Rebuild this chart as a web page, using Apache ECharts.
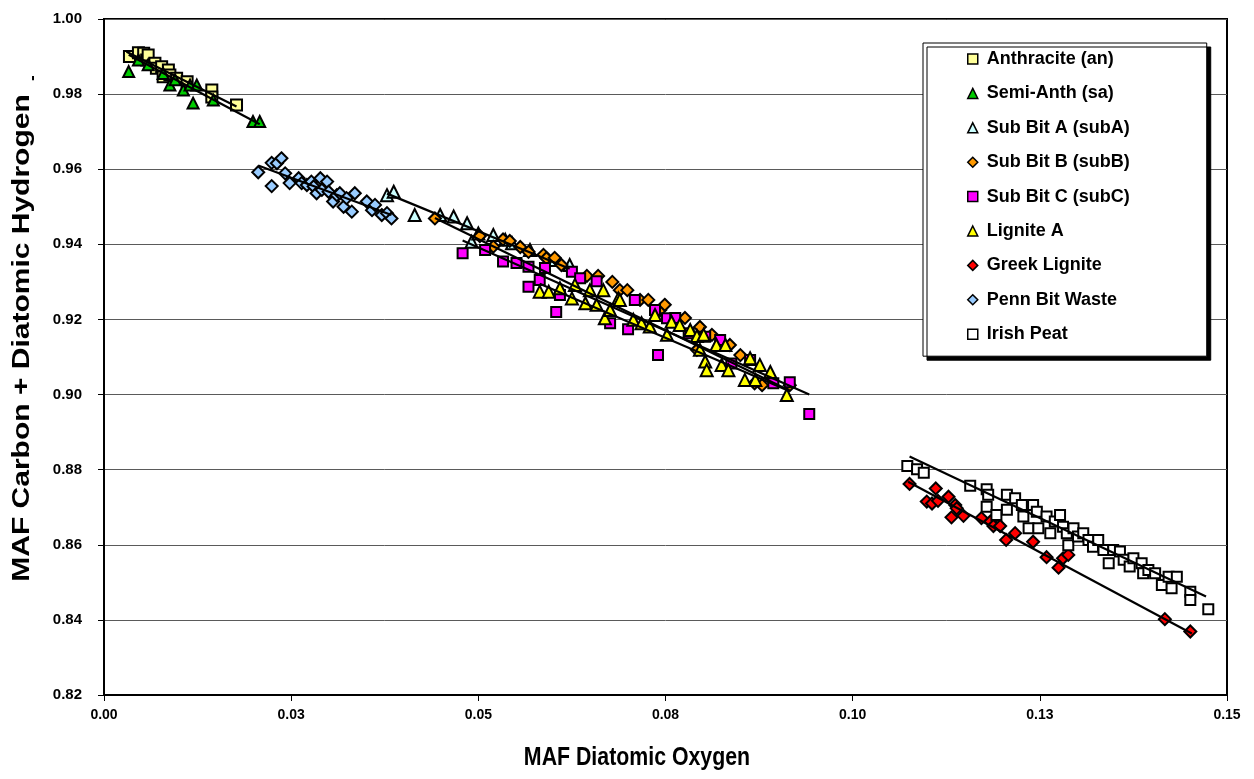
<!DOCTYPE html>
<html>
<head>
<meta charset="utf-8">
<script src="https://cdn.jsdelivr.net/npm/echarts@6/dist/echarts.min.js"></script>
<style>
html, body { margin: 0; padding: 0; background: #fff; }
#chart { width: 1254px; height: 779px; }
</style>
</head>
<body>
<div id="chart"></div>
<script>
// [MAF diatomic oxygen, MAF carbon + diatomic hydrogen]
const anthracite = [[0.0034,0.9900],[0.0046,0.9910],[0.0053,0.9909],[0.0057,0.9891],[0.0059,0.9904],[0.0068,0.9882],[0.0070,0.9869],[0.0077,0.9873],[0.0079,0.9846],[0.0086,0.9864],[0.0088,0.9851],[0.0097,0.9842],[0.0111,0.9833],[0.0144,0.9811],[0.0144,0.9792],[0.0177,0.9771]];
const semiAnth = [[0.0033,0.9860],[0.0046,0.9891],[0.0059,0.9878],[0.0079,0.9855],[0.0088,0.9824],[0.0095,0.9838],[0.0106,0.9811],[0.0115,0.9824],[0.0119,0.9776],[0.0124,0.9824],[0.0146,0.9784],[0.0199,0.9727],[0.0208,0.9727]];
const subBitA = [[0.0378,0.9531],[0.0387,0.9540],[0.0415,0.9478],[0.0449,0.9478],[0.0467,0.9474],[0.0485,0.9456],[0.0491,0.9407],[0.0500,0.9429],[0.0520,0.9425],[0.0536,0.9412],[0.0545,0.9403],[0.0569,0.9385],[0.0602,0.9358],[0.0622,0.9345]];
const subBitB = [[0.0442,0.9469],[0.0502,0.9422],[0.0520,0.9394],[0.0533,0.9413],[0.0542,0.9409],[0.0556,0.9393],[0.0567,0.9380],[0.0587,0.9372],[0.0591,0.9363],[0.0602,0.9364],[0.0611,0.9345],[0.0645,0.9316],[0.0660,0.9316],[0.0679,0.9300],[0.0689,0.9278],[0.0699,0.9278],[0.0716,0.9252],[0.0727,0.9252],[0.0743,0.9225],[0.0749,0.9239],[0.0776,0.9204],[0.0792,0.9119],[0.0796,0.9180],[0.0812,0.9159],[0.0836,0.9132],[0.0850,0.9105],[0.0869,0.9030],[0.0879,0.9025],[0.0916,0.9025]];
const subBitC = [[0.0479,0.9376],[0.0509,0.9385],[0.0533,0.9354],[0.0551,0.9350],[0.0567,0.9340],[0.0567,0.9287],[0.0582,0.9305],[0.0589,0.9337],[0.0604,0.9220],[0.0609,0.9265],[0.0625,0.9327],[0.0636,0.9310],[0.0658,0.9302],[0.0676,0.9190],[0.0700,0.9174],[0.0709,0.9252],[0.0736,0.9225],[0.0740,0.9105],[0.0752,0.9203],[0.0763,0.9204],[0.0781,0.9163],[0.0803,0.9154],[0.0823,0.9145],[0.0838,0.9083],[0.0863,0.9092],[0.0894,0.9030],[0.0916,0.9033],[0.0942,0.8948]];
const ligniteA = [[0.0582,0.9274],[0.0594,0.9274],[0.0609,0.9283],[0.0625,0.9256],[0.0629,0.9292],[0.0643,0.9243],[0.0649,0.9278],[0.0658,0.9239],[0.0667,0.9278],[0.0669,0.9203],[0.0676,0.9225],[0.0687,0.9256],[0.0689,0.9252],[0.0707,0.9199],[0.0718,0.9190],[0.0729,0.9181],[0.0736,0.9212],[0.0752,0.9159],[0.0758,0.9194],[0.0769,0.9185],[0.0783,0.9172],[0.0792,0.9156],[0.0801,0.9159],[0.0796,0.9119],[0.0818,0.9132],[0.0830,0.9132],[0.0803,0.9088],[0.0805,0.9065],[0.0825,0.9079],[0.0834,0.9065],[0.0863,0.9097],[0.0856,0.9039],[0.0870,0.9039],[0.0876,0.9079],[0.0890,0.9060],[0.0912,0.8999]];
const greekLignite = [[0.1076,0.8762],[0.1099,0.8715],[0.1106,0.8710],[0.1111,0.8750],[0.1114,0.8717],[0.1128,0.8728],[0.1132,0.8673],[0.1137,0.8706],[0.1139,0.8697],[0.1148,0.8677],[0.1172,0.8671],[0.1184,0.8662],[0.1188,0.8650],[0.1197,0.8650],[0.1205,0.8613],[0.1217,0.8631],[0.1241,0.8608],[0.1259,0.8567],[0.1275,0.8539],[0.1281,0.8564],[0.1288,0.8573],[0.1417,0.8402],[0.1451,0.8369]];
const pennBitWaste = [[0.0206,0.9592],[0.0224,0.9617],[0.0224,0.9555],[0.0231,0.9616],[0.0237,0.9629],[0.0242,0.9589],[0.0248,0.9563],[0.0260,0.9576],[0.0264,0.9563],[0.0271,0.9558],[0.0277,0.9567],[0.0280,0.9554],[0.0284,0.9536],[0.0289,0.9576],[0.0291,0.9545],[0.0298,0.9567],[0.0300,0.9540],[0.0306,0.9514],[0.0311,0.9531],[0.0315,0.9536],[0.0320,0.9500],[0.0324,0.9523],[0.0331,0.9487],[0.0335,0.9536],[0.0351,0.9514],[0.0358,0.9491],[0.0362,0.9505],[0.0371,0.9478],[0.0378,0.9483],[0.0384,0.9469]];
const irishPeat = [[0.1073,0.8810],[0.1086,0.8801],[0.1095,0.8792],[0.1157,0.8757],[0.1179,0.8748],[0.1181,0.8733],[0.1179,0.8701],[0.1192,0.8679],[0.1206,0.8733],[0.1217,0.8724],[0.1206,0.8693],[0.1226,0.8706],[0.1228,0.8675],[0.1241,0.8706],[0.1246,0.8688],[0.1235,0.8644],[0.1248,0.8644],[0.1259,0.8675],[0.1264,0.8631],[0.1270,0.8662],[0.1277,0.8679],[0.1281,0.8648],[0.1286,0.8631],[0.1288,0.8599],[0.1295,0.8644],[0.1301,0.8622],[0.1308,0.8631],[0.1315,0.8613],[0.1321,0.8595],[0.1328,0.8613],[0.1335,0.8586],[0.1342,0.8551],[0.1348,0.8586],[0.1357,0.8582],[0.1362,0.8560],[0.1370,0.8542],[0.1375,0.8564],[0.1386,0.8551],[0.1388,0.8524],[0.1395,0.8533],[0.1404,0.8524],[0.1413,0.8493],[0.1422,0.8515],[0.1426,0.8484],[0.1433,0.8515],[0.1451,0.8475],[0.1451,0.8453],[0.1475,0.8428]];

// fitted trend lines, [start, end]
const anthraciteTrend = [[0.0030,0.9913],[0.0177,0.9767]];
const semiAnthTrend = [[0.0033,0.9905],[0.0208,0.9720]];
const subBitATrend = [[0.0378,0.9535],[0.0622,0.9335]];
const subBitBTrend = [[0.0442,0.9470],[0.0916,0.9010]];
const subBitCTrend = [[0.0479,0.9410],[0.0942,0.9000]];
const ligniteATrend = [[0.0582,0.9295],[0.0912,0.9012]];
const greekTrend = [[0.1074,0.8768],[0.1453,0.8364]];
const pennTrend = [[0.0206,0.9610],[0.0384,0.9478]];
const peatTrend = [[0.1076,0.8835],[0.1472,0.8462]];

const xTickLabels = ['0.00','0.03','0.05','0.08','0.10','0.13','0.15'];
const yTickLabels = ['0.82','0.84','0.86','0.88','0.90','0.92','0.94','0.96','0.98','1.00'];

const FONT = '"Liberation Sans", Arial, sans-serif';

const seriesDefs = [
  { name: 'Anthracite (an)', data: anthracite, symbol: 'rect', size: 11, color: '#FFFF99' },
  { name: 'Semi-Anth (sa)', data: semiAnth, symbol: 'triangle', size: 11, color: '#00CC00' },
  { name: 'Sub Bit A (subA)', data: subBitA, symbol: 'triangle', size: 12, color: '#CCFFFF' },
  { name: 'Sub Bit B (subB)', data: subBitB, symbol: 'diamond', size: 12, color: '#FF9900' },
  { name: 'Sub Bit C (subC)', data: subBitC, symbol: 'rect', size: 10, color: '#FF00FF' },
  { name: 'Lignite A', data: ligniteA, symbol: 'triangle', size: 12, color: '#FFFF00' },
  { name: 'Greek Lignite', data: greekLignite, symbol: 'diamond', size: 12, color: '#FF0000' },
  { name: 'Penn Bit Waste', data: pennBitWaste, symbol: 'diamond', size: 12, color: '#99CCFF' },
  { name: 'Irish Peat', data: irishPeat, symbol: 'rect', size: 10, color: '#FFFFFF' }
];
const trendLines = [anthraciteTrend, semiAnthTrend, subBitATrend, subBitBTrend, subBitCTrend, ligniteATrend, greekTrend, pennTrend, peatTrend];

const series = seriesDefs.map(function (s, i) {
  return {
    name: s.name,
    type: 'scatter',
    data: s.data,
    symbol: s.symbol,
    symbolSize: s.size,
    z: 2 + i * 0.01,
    itemStyle: { color: s.color, borderColor: '#000', borderWidth: 2, opacity: 1 },
    emphasis: { disabled: true }
  };
});
trendLines.forEach(function (t, i) {
  series.push({
    name: 'trend' + i,
    type: 'line',
    data: t,
    showSymbol: false,
    symbol: 'none',
    silent: true,
    z: 3,
    lineStyle: { color: '#000', width: 2.2 },
    emphasis: { disabled: true }
  });
});

const chart = echarts.init(document.getElementById('chart'), null, { renderer: 'canvas' });
chart.setOption({
  animation: false,
  backgroundColor: '#fff',
  grid: { left: 104, top: 19, right: 27, bottom: 84, show: true, borderColor: '#000', borderWidth: 2, backgroundColor: 'transparent' },
  xAxis: {
    type: 'value', min: 0, max: 0.15, interval: 0.025,
    axisLine: { show: true, onZero: false, lineStyle: { color: '#000', width: 2 } },
    axisTick: { show: true, inside: false, length: 6, lineStyle: { color: '#000', width: 1 } },
    splitLine: { show: false },
    axisLabel: {
      margin: 13, color: '#000', fontFamily: FONT, fontWeight: 'bold', fontSize: 14,
      formatter: function (v) { return xTickLabels[Math.round(v / 0.025)]; }
    }
  },
  yAxis: {
    type: 'value', min: 0.82, max: 1.0, interval: 0.02,
    axisLine: { show: true, onZero: false, lineStyle: { color: '#000', width: 2 } },
    axisTick: { show: true, inside: false, length: 6, lineStyle: { color: '#000', width: 1 } },
    splitLine: { show: true, lineStyle: { color: '#5a5a5a', width: 1 } },
    axisLabel: {
      margin: 22, color: '#000', fontFamily: FONT, fontWeight: 'bold', fontSize: 15,
      formatter: function (v) { return yTickLabels[Math.round((v - 0.82) / 0.02)]; }
    }
  },
  legend: {
    orient: 'vertical', left: 923, top: 43,
    padding: [4, 77, 10, 44],
    itemGap: 10.4, itemWidth: 10, itemHeight: 10,
    backgroundColor: '#fff', borderColor: '#000', borderWidth: 1,
    shadowColor: '#000', shadowBlur: 0, shadowOffsetX: 4, shadowOffsetY: 4,
    itemStyle: { borderWidth: 1.5 },
    selectedMode: false,
    textStyle: { color: '#000', fontFamily: FONT, fontWeight: 'bold', fontSize: 18, lineHeight: 24, padding: [0, 0, 0, 4] },
    data: seriesDefs.map(function (s) { return { name: s.name, icon: s.symbol }; })
  },
  graphic: [
    { type: 'text', x: 637, y: 758, scaleX: 0.82,
      style: { text: 'MAF Diatomic Oxygen', font: 'bold 26px ' + FONT, fill: '#000', align: 'center', verticalAlign: 'middle' } },
    { type: 'text', x: 22, y: 338, rotation: Math.PI / 2, scaleY: 0.82,
      style: { text: 'MAF Carbon + Diatomic Hydrogen', font: 'bold 30px ' + FONT, fill: '#000', align: 'center', verticalAlign: 'middle' } },
    { type: 'text', x: 33, y: 78, rotation: Math.PI / 2,
      style: { text: '-', font: 'bold 16px ' + FONT, fill: '#000', align: 'center', verticalAlign: 'middle' } }
  ],
  series: series
});
</script>
</body>
</html>
